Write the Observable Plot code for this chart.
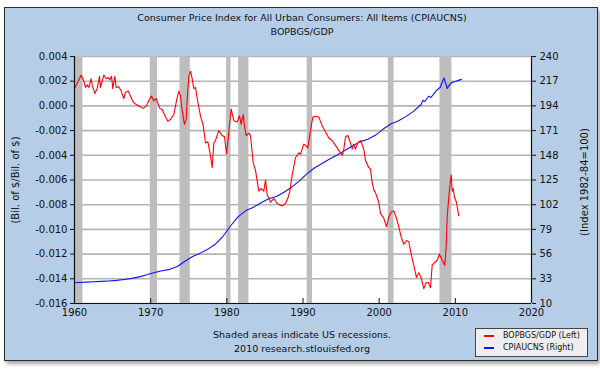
<!DOCTYPE html>
<html>
<head>
<meta charset="utf-8">
<script src="https://cdn.jsdelivr.net/npm/d3@7"></script>
<script src="https://cdn.jsdelivr.net/npm/@observablehq/plot@0.6"></script>
<style>
  body { margin: 0; background: #fff; }
  #wrap { position: relative; width: 600px; height: 375px; overflow: hidden; font-family: "DejaVu Sans", sans-serif; color: #111; }
  #panel { position: absolute; left: 4px; top: 7px; width: 592px; height: 352px; background: #b5cde6; border: 1px solid #2a2a2a; box-shadow: 2px 3px 4px rgba(0,0,0,0.35); }
  .t { position: absolute; white-space: nowrap; }
  #chart { position: absolute; left: 0; top: 0; }
  #legend { position: absolute; left: 475px; top: 328px; width: 111px; height: 27px; background: #eeeeee; border: 1px solid #444; font-size: 8px; }
</style>
</head>
<body>
<div id="wrap">
  <div id="panel"></div>
  <div id="chart"></div>
  <div class="t" id="title1" style="left:302px;top:12px;transform:translateX(-50%);font-size:9.5px;">Consumer Price Index for All Urban Consumers: All Items (CPIAUCNS)</div>
  <div class="t" id="title2" style="left:302px;top:26px;transform:translateX(-50%);font-size:9.5px;">BOPBGS/GDP</div>
  <div class="t" id="ylabL" style="left:15px;top:180px;transform:translate(-50%,-50%) rotate(-90deg);font-size:10px;">(Bil. of $/Bil. of $)</div>
  <div class="t" id="ylabR" style="left:584px;top:182px;transform:translate(-50%,-50%) rotate(-90deg);font-size:10px;">(Index 1982-84=100)</div>
  <div class="t" id="foot1" style="left:302px;top:329px;transform:translateX(-50%);font-size:9.5px;">Shaded areas indicate US recessions.</div>
  <div class="t" id="foot2" style="left:302px;top:343px;transform:translateX(-50%);font-size:9.5px;">2010 research.stlouisfed.org</div>
  <div id="legend"></div>
</div>
<script>
// ---- data ----
const bopYears = [1960.0,1960.88,1961.22,1961.44,1961.67,1961.88,1962.19,1962.32,1962.67,1962.98,1963.28,1963.41,1963.64,1963.85,1964.16,1964.42,1964.63,1964.86,1965.03,1965.29,1965.47,1965.82,1966.13,1966.47,1966.7,1967.05,1967.35,1967.71,1968.01,1968.44,1969.02,1969.45,1969.8,1970.1,1970.4,1970.7,1971.2,1971.5,1971.95,1972.25,1972.6,1973.04,1973.39,1973.69,1973.92,1974.14,1974.44,1974.66,1974.8,1975.01,1975.23,1975.45,1975.66,1975.89,1976.11,1976.54,1976.9,1977.2,1977.5,1977.76,1977.99,1978.08,1978.29,1978.51,1978.94,1979.39,1979.69,1979.96,1980.26,1980.57,1980.91,1981.36,1981.66,1981.89,1982.15,1982.32,1982.54,1982.88,1983.11,1983.46,1983.76,1984.2,1984.51,1984.85,1985.08,1985.3,1985.73,1986.17,1986.61,1987.27,1987.7,1988.0,1988.27,1988.58,1989.01,1989.45,1989.67,1990.1,1990.33,1990.63,1990.98,1991.29,1991.64,1992.07,1992.52,1992.95,1993.39,1993.83,1994.27,1994.7,1995.15,1995.36,1995.58,1995.88,1996.23,1996.46,1996.67,1996.89,1997.19,1997.55,1997.98,1998.2,1998.64,1998.86,1999.08,1999.3,1999.5,1999.95,2000.17,2000.61,2000.96,2001.26,2001.58,2001.92,2002.27,2002.58,2002.89,2003.23,2003.59,2003.89,2004.24,2004.54,2004.9,2005.2,2005.56,2005.86,2006.17,2006.44,2006.74,2006.96,2007.26,2007.62,2007.92,2008.27,2008.61,2008.8,2008.93,2009.14,2009.36,2009.46,2009.59,2009.72,2009.89,2010.15,2010.45];
const bopValues = [0.0014,0.0025,0.0020,0.0015,0.0017,0.0015,0.0022,0.0017,0.0010,0.0014,0.0024,0.0015,0.0020,0.0025,0.0022,0.0023,0.0021,0.0024,0.0014,0.0024,0.0015,0.00155,0.0012,0.0006,0.0011,0.0012,0.0008,0.0003,0.00015,0.0,-0.0002,0.0,0.0005,0.0008,0.0004,0.0006,-0.0002,-0.0003,-0.0009,-0.00125,-0.0011,-0.0007,0.0004,0.0012,0.0008,-0.0004,-0.0015,-0.0011,0.0006,0.0024,0.0028,0.0022,0.0014,0.0015,0.0006,-0.0008,-0.0016,-0.0030,-0.0029,-0.0037,-0.0046,-0.0050,-0.0030,-0.0028,-0.0020,-0.0024,-0.0025,-0.0039,-0.0021,-0.00025,-0.0012,-0.0013,-0.0008,-0.0015,-0.0007,-0.0016,-0.0024,-0.0022,-0.0024,-0.0046,-0.0052,-0.0069,-0.0067,-0.0069,-0.0060,-0.0072,-0.0078,-0.0075,-0.0079,-0.0081,-0.0079,-0.0075,-0.0069,-0.0056,-0.0042,-0.0038,-0.0039,-0.0031,-0.0032,-0.0034,-0.0020,-0.0009,-0.00085,-0.0009,-0.0016,-0.0021,-0.0026,-0.0028,-0.0032,-0.0036,-0.0040,-0.0035,-0.0025,-0.0024,-0.0030,-0.0035,-0.0031,-0.0035,-0.0030,-0.0028,-0.0035,-0.0044,-0.0050,-0.0051,-0.0062,-0.0068,-0.0070,-0.0078,-0.0087,-0.0091,-0.0098,-0.0090,-0.0086,-0.0085,-0.0091,-0.0098,-0.0106,-0.0112,-0.0109,-0.0110,-0.0121,-0.0129,-0.0139,-0.0135,-0.0140,-0.0148,-0.0143,-0.0143,-0.0147,-0.0129,-0.0127,-0.0125,-0.0120,-0.0125,-0.0129,-0.0114,-0.0090,-0.0074,-0.0060,-0.0056,-0.0069,-0.0067,-0.0074,-0.0078,-0.0089];

const cpiYears = [1960.0,1960.5,1961.5,1962.5,1963.5,1964.5,1965.5,1966.5,1967.5,1968.5,1969.5,1970.5,1971.5,1972.5,1973.5,1974.5,1975.5,1976.5,1977.5,1978.5,1979.5,1980.5,1981.5,1982.5,1983.5,1984.5,1985.5,1986.5,1987.5,1988.5,1989.5,1990.5,1991.5,1992.5,1993.5,1994.5,1995.5,1996.5,1997.5,1998.5,1999.5,2000.5,2001.5,2002.5,2003.5,2004.5,2005.5,2005.75,2006.0,2006.5,2006.8,2007.5,2008.0,2008.5,2008.95,2009.1,2009.5,2010.0,2010.5,2010.8];
const cpiValues = [29.3,29.6,29.9,30.2,30.6,31.0,31.5,32.4,33.4,34.8,36.7,38.8,40.5,41.8,44.4,49.3,53.8,56.9,60.6,65.2,72.6,82.4,90.9,96.5,99.6,103.9,107.6,109.6,113.6,118.3,124.0,130.7,136.2,140.3,144.5,148.2,152.4,156.9,160.5,163.0,166.6,172.2,177.1,179.9,184.0,188.9,195.3,199.2,198.3,203.0,201.8,208.3,211.1,219.96,210.2,212.2,215.7,216.7,218.0,218.7];

const recStart = [1960.1,1969.95,1973.85,1979.97,1981.55,1990.55,2001.2,2007.98];
const recEnd   = [1961.1,1970.9,1975.2,1980.55,1982.9,1991.25,2001.95,2009.55];

const leftTicks  = [0.004,0.002,0,-0.002,-0.004,-0.006,-0.008,-0.010,-0.012,-0.014,-0.016];
const rightTicks = [240,217,194,171,148,125,102,79,56,33,10];
const xTicks = [1960,1970,1980,1990,2000,2010,2020];

// ---- build tables ----
const L0 = -0.016, L1 = 0.004, R0 = 10, R1 = 240;
const toLeft = v => L0 + (v - R0) * (L1 - L0) / (R1 - R0);
const bop = bopYears.map((t, i) => ({t, v: bopValues[i]}));
const cpi = cpiYears.map((t, i) => ({t, v: toLeft(cpiValues[i])}));
const rec = recStart.map((s, i) => ({s, e: recEnd[i]}));
const rightPos = rightTicks.map(toLeft);
const rightLabel = new Map(rightPos.map((p, i) => [p.toFixed(6), String(rightTicks[i])]));

const chart = Plot.plot({
  width: 600,
  height: 375,
  marginLeft: 74,
  marginRight: 69,
  marginTop: 56,
  marginBottom: 72,
  style: {background: "transparent", fontFamily: "DejaVu Sans, sans-serif", fontSize: "10px", color: "#111", overflow: "visible"},
  x: {domain: [1960, 2020]},
  y: {domain: [L0, L1]},
  marks: [
    Plot.frame({fill: "white", stroke: null}),
    Plot.gridY(leftTicks, {stroke: "#b4b4b4", strokeOpacity: 1, strokeWidth: 1.6}),
    Plot.rect(rec, {x1: "s", x2: "e", fill: "#bdbdbd"}),
    Plot.line(cpi, {x: "t", y: "v", stroke: "#1010ff", strokeWidth: 1.1}),
    Plot.line(bop, {x: "t", y: "v", stroke: "#ff0000", strokeWidth: 1.1}),
    Plot.ruleY([L0], {stroke: "#111", strokeWidth: 1.2}),
    Plot.ruleX([1960, 2020], {stroke: "#111", strokeWidth: 1.2}),
    Plot.axisY(leftTicks, {anchor: "left", tickSize: 4, tickPadding: 3, tickFormat: d => d.toFixed(3), label: null, stroke: "#111"}),
    Plot.axisY(rightPos, {anchor: "right", tickSize: 4, tickPadding: 4, tickFormat: d => rightLabel.get(d.toFixed(6)), label: null, stroke: "#111"}),
    Plot.axisX(xTicks, {anchor: "bottom", tickSize: 5, dy: -5, tickFormat: () => "", label: null, stroke: "#111"}),
    Plot.axisX(xTicks, {anchor: "bottom", tickSize: 0, tickPadding: 5, tickFormat: d => String(d), label: null})
  ]
});
document.getElementById("chart").appendChild(chart);

// legend
const legendItems = [
  {name: "BOPBGS/GDP (Left)", color: "#ff0000"},
  {name: "CPIAUCNS (Right)", color: "#1010ff"}
];
const lg = d3.select("#legend");
legendItems.forEach((it, i) => {
  const row = lg.append("div").style("position", "absolute").style("left", "0px").style("top", (2 + i * 11.5) + "px").style("white-space", "nowrap");
  row.append("span").style("position", "absolute").style("left", "8px").style("top", "4px").style("width", "10px").style("height", "2px").style("background", it.color);
  row.append("span").style("position", "absolute").style("left", "27px").style("top", "0px").style("font-size", "8px").text(it.name);
});
</script>
</body>
</html>
